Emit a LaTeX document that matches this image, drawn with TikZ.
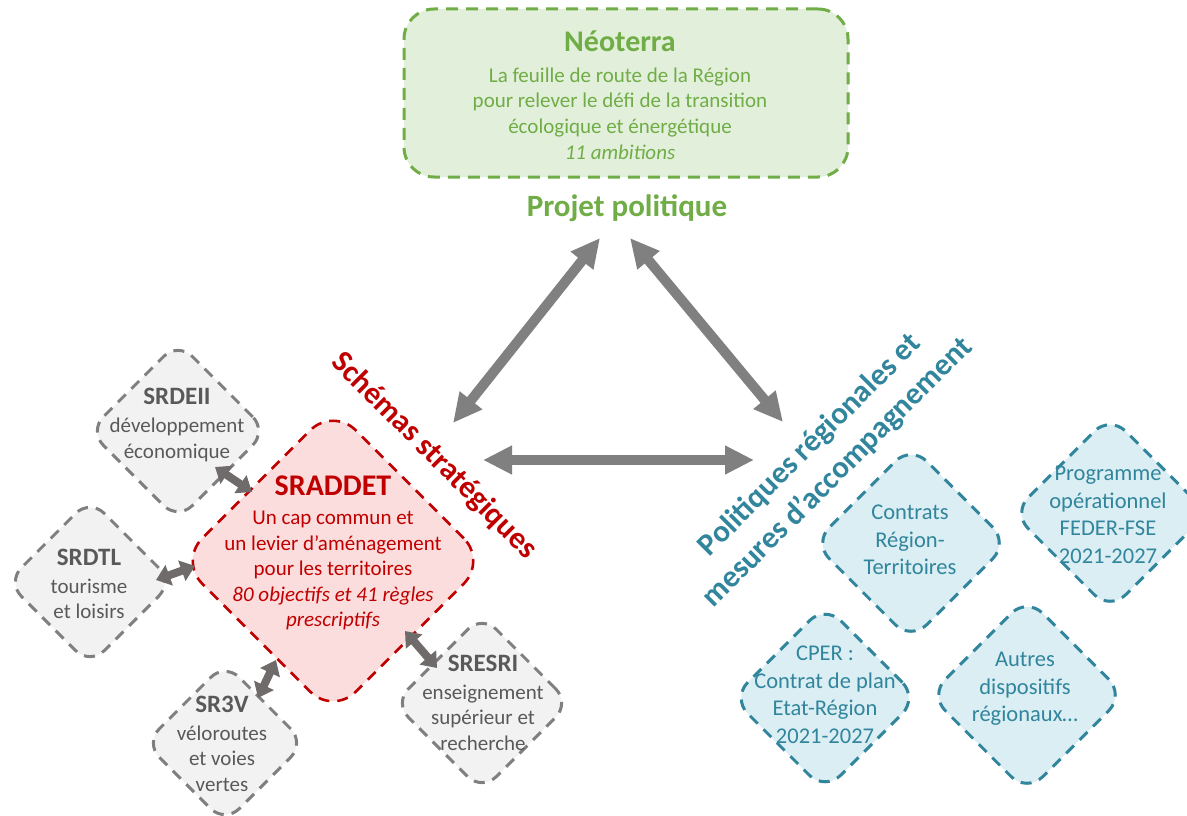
\documentclass[tikz,border=0pt]{standalone}
\usepackage{fontspec}
\setmainfont{Carlito}
\usetikzlibrary{arrows.meta,shapes.geometric,calc}
\definecolor{grn}{HTML}{70AD47}
\definecolor{grnfill}{HTML}{E2EFDA}
\definecolor{redA}{HTML}{C00000}
\definecolor{redfill}{HTML}{FBDDDD}
\definecolor{gryline}{HTML}{7F7F7F}
\definecolor{gryfill}{HTML}{F2F2F2}
\definecolor{grytext}{HTML}{595959}
\definecolor{tealA}{HTML}{31859C}
\definecolor{bluefill}{HTML}{DAEEF3}
\definecolor{arrgray}{HTML}{808080}
\definecolor{sarrgray}{HTML}{6F6B6B}
\begin{document}
\begin{tikzpicture}[x=1pt,y=-1pt,
  dia/.style={diamond, aspect=1, inner sep=0pt, line width=3pt, dash pattern=on 11pt off 8pt},
  gdia/.style={dia, draw=gryline, fill=gryfill, rounded corners=20pt},
  bdia/.style={dia, draw=tealA, fill=bluefill, rounded corners=22pt},
  rdia/.style={dia, draw=redA, fill=redfill, rounded corners=32pt, line width=2.6pt},
  gtxt/.style={align=center, text=grytext, font=\fontsize{21}{25.6}\selectfont},
  btxt/.style={align=center, text=tealA, font=\fontsize{22.5}{27.5}\selectfont},
  gtitle/.style={font=\bfseries\fontsize{25}{30}\selectfont},
  bigarr/.style={draw=arrgray, line width=10pt, arrows={Triangle[length=29pt,width=27pt]-Triangle[length=29pt,width=27pt]}},
  smallarr/.style={draw=sarrgray, line width=8pt, arrows={Triangle[length=14pt,width=21pt]-Triangle[length=14pt,width=21pt]}}
]
\useasboundingbox (0,0) rectangle (1187,816);
\clip (0,0) rectangle (1187,816);
\fill[white] (0,0) rectangle (1187,816);

% top box
\node[draw=grn, fill=grnfill, line width=3pt, dash pattern=on 12pt off 8pt, rounded corners=30pt,
      minimum width=444pt, minimum height=168pt, inner sep=0pt] (neo) at (626,93) {};
\node[align=center, text=grn, font=\fontsize{21}{25.7}\selectfont] (neoT) at (620,95)
  {{\bfseries\fontsize{30}{36}\selectfont Néoterra}\\[5pt]
   La feuille de route de la Région\\
   pour relever le défi de la transition\\
   écologique et énergétique\\
   \itshape 11 ambitions};
\node[text=grn, font=\bfseries\fontsize{31}{37}\selectfont] (pp) at (627,208) {Projet politique};

% labels
\node[rotate=-45, text=redA, font=\bfseries\fontsize{31}{37}\selectfont] (schemas) at (434,456) {Schémas stratégiques};
\node[rotate=45, align=center, text=tealA, font=\bfseries\fontsize{31}{39}\selectfont] (polit) at (824,459)
  {Politiques régionales et\\ mesures d’accompagnement};

% left diamonds
\node[rdia, minimum width=308pt, minimum height=308pt] (sraddet) at (333,561) {};
\node[gdia, minimum width=179pt, minimum height=179pt] (srdeii) at (178,431) {};
\node[gdia, minimum width=167pt, minimum height=167pt] (srdtl) at (90,582) {};
\node[gdia, minimum width=161pt, minimum height=161pt] (sr3v) at (225,743) {};
\node[gdia, minimum width=177pt, minimum height=177pt] (sresri) at (482,703) {};

\node[align=center, text=redA, font=\fontsize{21}{25.5}\selectfont] (sraddetT) at (333,553)
  {{\bfseries\fontsize{30}{36}\selectfont SRADDET}\\[4pt]
   Un cap commun et\\
   un levier d’aménagement\\
   pour les territoires\\
   \itshape 80 objectifs et 41 règles\\
   \itshape prescriptifs};
\node[gtxt] (srdeiiT) at (177,425) {{\bfseries\fontsize{25}{30}\selectfont SRDEII}\\[2pt] développement\\ économique};
\node[gtxt] (srdtlT) at (89,584) {{\bfseries\fontsize{25}{30}\selectfont SRDTL}\\[2pt] tourisme\\ et loisirs};
\node[gtxt] (sr3vT) at (222,744) {{\bfseries\fontsize{25}{30}\selectfont SR3V}\\[2pt] véloroutes\\ et voies\\ vertes};
\node[gtxt] (sresriT) at (483,703) {{\bfseries\fontsize{25}{30}\selectfont SRESRI}\\[2pt] enseignement\\ supérieur et\\ recherche};

% right diamonds
\node[bdia, minimum width=196pt, minimum height=196pt] (contrats) at (911,543) {};
\node[bdia, minimum width=196pt, minimum height=196pt] (prog) at (1110,513) {};
\node[bdia, minimum width=187pt, minimum height=187pt] (cper) at (825,698) {};
\node[bdia, minimum width=196pt, minimum height=196pt] (autres) at (1027,695) {};

\node[btxt] (contratsT) at (910,540) {Contrats\\ Région-\\ Territoires};
\node[btxt] (progT) at (1108,515) {Programme\\ opérationnel\\ FEDER-FSE\\ 2021-2027};
\node[btxt] (cperT) at (825,695) {CPER :\\ Contrat de plan\\ Etat-Région\\ 2021-2027};
\node[btxt] (autresT) at (1025,689) {Autres\\ dispositifs\\ régionaux…};

% main arrows
\draw[bigarr] ($(pp)+(-27,30)$) -- ($(schemas)+(19,-33)$);
\draw[bigarr] ($(pp)+(3,30)$) -- ($(polit)+(-41,-37)$);
\draw[bigarr] ($(schemas)+(49,4)$) -- ($(polit)+(-70,1)$);

% small arrows
\draw[smallarr] ($(srdeii)+(37,36)$) -- ($(sraddet)+(-81,-69)$);
\draw[smallarr] ($(srdtl)+(66,-2)$) -- ($(sraddet)+(-138,5)$);
\draw[smallarr] ($(sraddet)+(-57,99)$) -- ($(sr3v)+(33,-45)$);
\draw[smallarr] ($(sraddet)+(72,70)$) -- ($(sresri)+(-45,-35)$);
\end{tikzpicture}
\end{document}
